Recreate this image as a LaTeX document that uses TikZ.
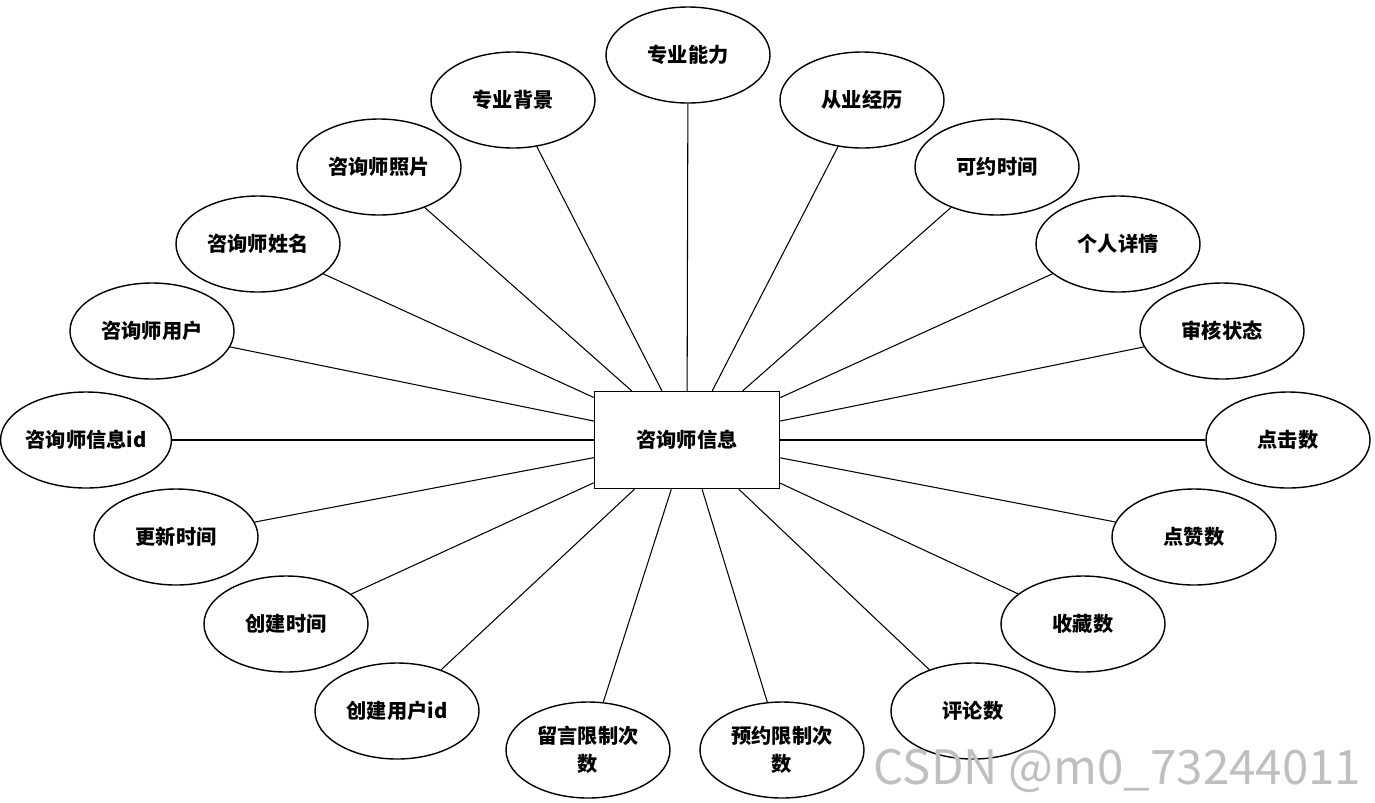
\documentclass[tikz,border=0pt]{standalone}
\usepackage{fontspec}
\setmainfont{Noto Sans CJK SC}
\usetikzlibrary{shapes.geometric}

\tikzset{
  attr/.style={draw, ellipse, thick, minimum width=3.28cm, minimum height=1.92cm,
    inner sep=0pt, align=center, font=\fontsize{11.5}{16}\selectfont\bfseries},
  entity/.style={draw, thick, minimum width=3.7cm, minimum height=1.94cm,
    font=\fontsize{11.5}{14}\selectfont\bfseries},
  link/.style={semithick}
}

\begin{document}
\begin{tikzpicture}
\useasboundingbox (0,0) rectangle (27.5,-16.04);
\node[entity] (info) at (13.74,-8.80) {咨询师信息};

% attributes round the entity
\foreach \x/\y/\n/\t in {
  13.76/-1.10/ability/专业能力,
  10.26/-2.00/major/专业背景,
  17.24/-2.00/career/从业经历,
  7.58/-3.34/photo/咨询师照片,
  19.94/-3.34/slot/可约时间,
  5.16/-4.88/cname/咨询师姓名,
  22.36/-4.88/detail/个人详情,
  3.04/-6.62/cuser/咨询师用户,
  24.44/-6.62/audit/审核状态,
  1.72/-8.80/id/咨询师信息id,
  25.76/-8.80/click/点击数,
  3.52/-10.74/updated/更新时间,
  23.88/-10.74/like/点赞数,
  5.72/-12.48/created/创建时间,
  21.66/-12.48/fav/收藏数,
  7.94/-14.22/creator/创建用户id,
  19.46/-14.22/comment/评论数,
  11.76/-15.00/msg/{留言限制次\\数},
  15.64/-15.00/book/{预约限制次\\数}}
{
  \node[attr] (\n) at (\x,\y) {\t};
  \draw[link] (\n) -- (info);
}

\node[text=black!25, font=\fontsize{27}{30}\selectfont] (mark) at (22.35,-15.42) {CSDN @m0\_73244011};
\end{tikzpicture}
\end{document}
